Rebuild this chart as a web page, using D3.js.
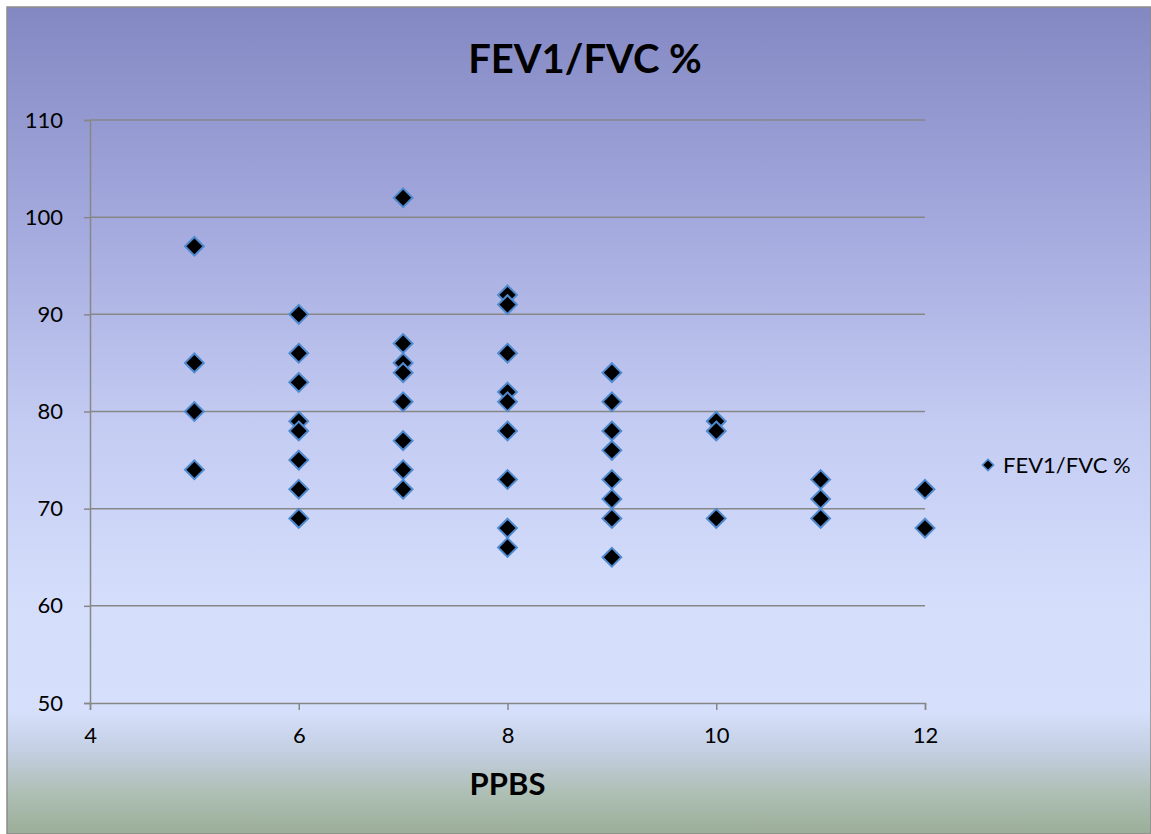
<!DOCTYPE html>
<html>
<head>
<meta charset="utf-8">
<script src="https://cdn.jsdelivr.net/npm/d3@7"></script>
<style>
  html, body { margin: 0; padding: 0; background: #ffffff; }
  svg { display: block; }
</style>
</head>
<body>
<div id="chart"></div>
<script>
// PPBS readings (x) and the matching FEV1/FVC % values (y)
const ppbs = [
  5, 5, 5, 5,
  6, 6, 6, 6, 6, 6, 6, 6,
  7, 7, 7, 7, 7, 7, 7, 7,
  8, 8, 8, 8, 8, 8, 8, 8, 8,
  9, 9, 9, 9, 9, 9, 9, 9,
  10, 10, 10,
  11, 11, 11,
  12, 12
];
const fevFvc = [
  97, 85, 80, 74,
  90, 86, 83, 79, 78, 75, 72, 69,
  102, 87, 85, 84, 81, 77, 74, 72,
  92, 91, 86, 82, 81, 78, 73, 68, 66,
  84, 81, 78, 76, 73, 71, 69, 65,
  79, 78, 69,
  73, 71, 69,
  72, 68
];
const xTicks = [4, 6, 8, 10, 12];
const yTicks = [50, 60, 70, 80, 90, 100, 110];
const chartTitle = "FEV1/FVC %";
const xTitle = "PPBS";
const seriesName = "FEV1/FVC %";

const W = 1151, H = 834;
const font = "Lato, 'Open Sans', sans-serif";
const gridColor = "#878787";
const markerStroke = "#4f8ad0";

const svg = d3.select("#chart").append("svg")
  .attr("width", W).attr("height", H);

// Chart area background gradient
const defs = svg.append("defs");
const grad = defs.append("linearGradient")
  .attr("id", "bg").attr("x1", 0).attr("y1", 0).attr("x2", 0).attr("y2", 1);
[
  [0.00, "#8388c3"],
  [0.28, "#a6acdf"],
  [0.50, "#c3cbf2"],
  [0.72, "#d4defb"],
  [0.85, "#d6e0fc"],
  [0.90, "#c3cfe2"],
  [0.95, "#aebfb5"],
  [1.00, "#9bae98"]
].forEach(([o, c]) => grad.append("stop").attr("offset", o).attr("stop-color", c));

svg.append("rect")
  .attr("x", 7).attr("y", 7).attr("width", W - 7).attr("height", H - 7)
  .attr("fill", "url(#bg)")
  .attr("stroke", "#8c8c8c").attr("stroke-width", 1.5);

// Plot area
const plot = { left: 90, right: 925, top: 120, bottom: 703 };
const x = d3.scaleLinear().domain([4, 12]).range([plot.left, plot.right]);
const y = d3.scaleLinear().domain([50, 110]).range([plot.bottom, plot.top]);

// Horizontal gridlines
svg.append("g")
  .selectAll("line")
  .data(yTicks.filter(v => v > 50))
  .join("line")
  .attr("x1", plot.left).attr("x2", plot.right)
  .attr("y1", d => y(d)).attr("y2", d => y(d))
  .attr("stroke", gridColor).attr("stroke-width", 1.5);

// Y axis
const yAxis = svg.append("g")
  .attr("transform", `translate(${plot.left},0)`)
  .call(d3.axisLeft(y).tickValues(yTicks).tickSize(6).tickPadding(21).tickFormat(d3.format("d")));
yAxis.select(".domain").attr("stroke", gridColor).attr("stroke-width", 1.5);
yAxis.selectAll(".tick line").attr("stroke", gridColor).attr("stroke-width", 1.5);
yAxis.selectAll(".tick text")
  .attr("font-family", font).attr("font-size", 22).attr("fill", "#000");

// X axis
const xAxis = svg.append("g")
  .attr("transform", `translate(0,${plot.bottom})`)
  .call(d3.axisBottom(x).tickValues(xTicks).tickSize(7).tickPadding(17).tickFormat(d3.format("d")));
xAxis.select(".domain").attr("stroke", gridColor).attr("stroke-width", 1.5);
xAxis.selectAll(".tick line").attr("stroke", gridColor).attr("stroke-width", 1.5);
xAxis.selectAll(".tick text")
  .attr("font-family", font).attr("font-size", 22).attr("fill", "#000");

// Diamond markers
const diamond = d3.symbol().type(d3.symbolDiamond2).size(225);
const pts = ppbs.map((p, i) => ({ p, v: fevFvc[i] }));
svg.append("g")
  .selectAll("path")
  .data(pts)
  .join("path")
  .attr("transform", d => `translate(${x(d.p)},${y(d.v)})`)
  .attr("d", diamond)
  .attr("fill", "#000")
  .attr("stroke", markerStroke).attr("stroke-width", 2);

// Title
svg.append("text")
  .attr("x", 585).attr("y", 73)
  .attr("text-anchor", "middle")
  .attr("font-family", font).attr("font-weight", "bold").attr("font-size", 40)
  .attr("fill", "#000")
  .text(chartTitle);

// X axis title
svg.append("text")
  .attr("x", (plot.left + plot.right) / 2).attr("y", 795)
  .attr("text-anchor", "middle")
  .attr("font-family", font).attr("font-weight", "bold").attr("font-size", 31)
  .attr("fill", "#000")
  .text(xTitle);

// Legend
const legend = svg.append("g").attr("transform", "translate(988,465)");
legend.append("path")
  .attr("d", d3.symbol().type(d3.symbolDiamond2).size(80))
  .attr("fill", "#000").attr("stroke", markerStroke).attr("stroke-width", 1.5);
legend.append("text")
  .attr("x", 15).attr("y", 8)
  .attr("font-family", font).attr("font-size", 22).attr("fill", "#000")
  .text(seriesName);
</script>
</body>
</html>
